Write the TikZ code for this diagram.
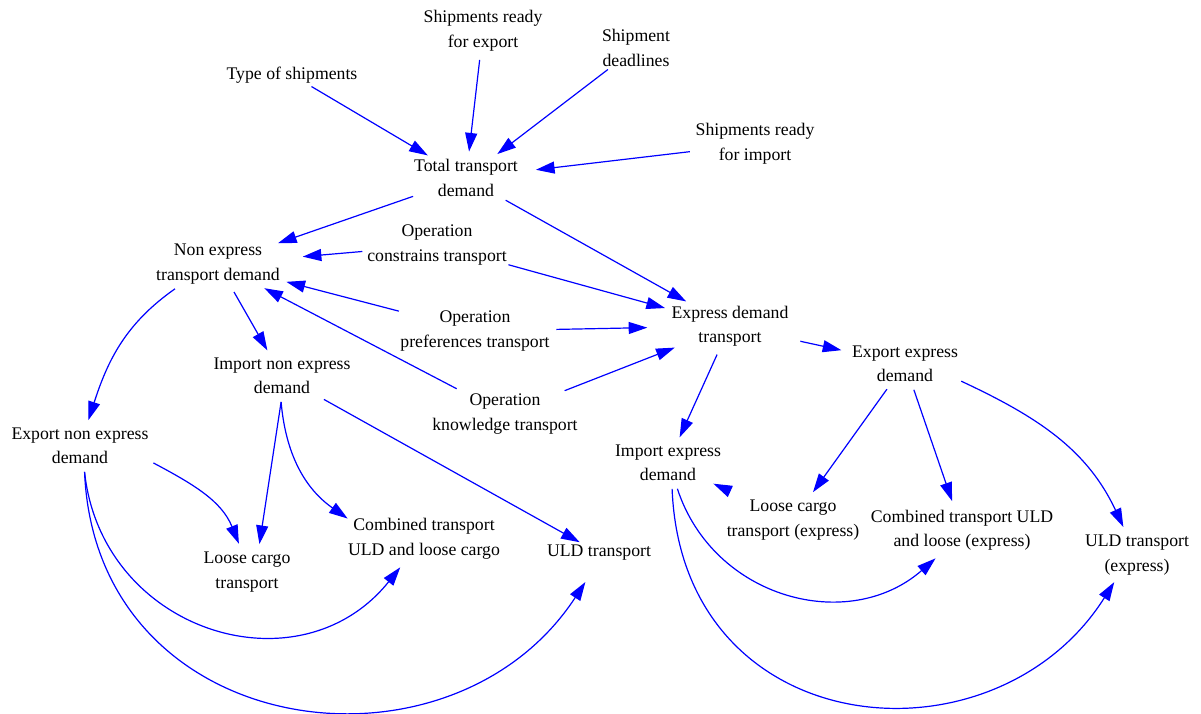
\documentclass[tikz,border=0pt]{standalone}
\usepackage{fontspec}
\setmainfont{Liberation Serif}
\usetikzlibrary{arrows.meta,shapes.geometric}
\begin{document}
\begin{tikzpicture}[x=0.75pt,y=-0.75pt]
\tikzset{
  var/.style={ellipse, inner sep=0pt, align=center,
    font=\fontsize{13.3pt}{18.4pt}\selectfont},
  arr/.style={draw=blue, line width=0.9pt,
    -{Triangle[length=14pt,width=9pt]}}
}
\useasboundingbox (0,0) rectangle (1201,713);

% variables
\node[var] (typ) at (292,75)  {Type of shipments};
\node[var] (sre) at (483,31)  {Shipments ready\\for export};
\node[var] (sdl) at (636,48)  {Shipment\\deadlines};
\node[var] (sri) at (755,144) {Shipments ready\\for import};
\node[var] (tot) at (466,178) {Total transport\\demand};
\node[var] (nex) at (218,264) {Non express\\transport demand};
\node[var] (ocn) at (437,245) {Operation\\constrains transport};
\node[var] (opr) at (475,331) {Operation\\preferences transport};
\node[var] (okn) at (505,414) {Operation\\knowledge transport};
\node[var] (exd) at (730,326) {Express demand\\transport};
\node[var] (eex) at (905,364) {Export express\\demand};
\node[var] (iex) at (668,463) {Import express\\demand};
\node[var] (inx) at (282,376) {Import non express\\demand};
\node[var] (enx) at (80,446)  {Export non express\\demand};
\node[var] (lct) at (247,572) {Loose cargo\\transport};
\node[var] (cmb) at (424,539) {Combined transport\\ULD and loose cargo};
\node[var] (uld) at (599,553) {ULD transport};
\node[var] (lce) at (793,520) {Loose cargo\\transport (express)};
\node[var] (cme) at (962,530) {Combined transport ULD\\and loose (express)};
\node[var] (ule) at (1137,555) {ULD transport\\(express)};

% inputs to total demand
\draw[arr] (typ) -- (tot);
\draw[arr] (sre) -- (tot);
\draw[arr] (sdl) -- (tot);
\draw[arr, shorten <=-11pt] (sri) -- (tot);

% non express branch
\draw[arr] (tot) -- (nex);
\draw[arr, shorten <=-15pt] (ocn) -- (nex);
\draw[arr] (opr) -- (nex);
\draw[arr] (okn) -- (nex);
\draw[arr] (nex) -- (inx);
\draw[arr] (nex.210) to[out=215,in=72] (enx.72);

% express branch
\draw[arr] (tot) -- (exd);
\draw[arr] (ocn) -- (exd);
\draw[arr, shorten <=-18pt] (opr) -- (exd);
\draw[arr] (okn) -- (exd);
\draw[arr] (exd) -- (eex);
\draw[arr] (exd) -- (iex);

% non express transport modes
\draw[arr] (enx.-13) to[out=-28,in=112] (lct.106);
\draw[arr] (inx.-92) -- (lct.66);
\draw[arr] (inx.-92) to[out=-85,in=145] (cmb.165);
\draw[arr] (inx) -- (uld);
\draw[arr] (enx.-80) .. controls +(17,160) and +(-101,126) .. (cmb.-130);
\draw[arr, shorten >=16pt] (enx.-80) .. controls +(11,270) and +(-147,225) .. (uld.-100);

% express transport modes
\draw[arr] (eex) -- (lce);
\draw[arr] (eex) -- (cme);
\draw[arr] (eex.-17) to[out=-25,in=115] (ule.116);
\draw[arr, shorten <=9pt] (lce) -- (iex);
\draw[arr] (iex.-70) .. controls +(36,110) and +(-87,76) .. (cme.-133);
\draw[arr] (iex.-81) .. controls +(10,255) and +(-120,190) .. (ule.-130);
\end{tikzpicture}
\end{document}
